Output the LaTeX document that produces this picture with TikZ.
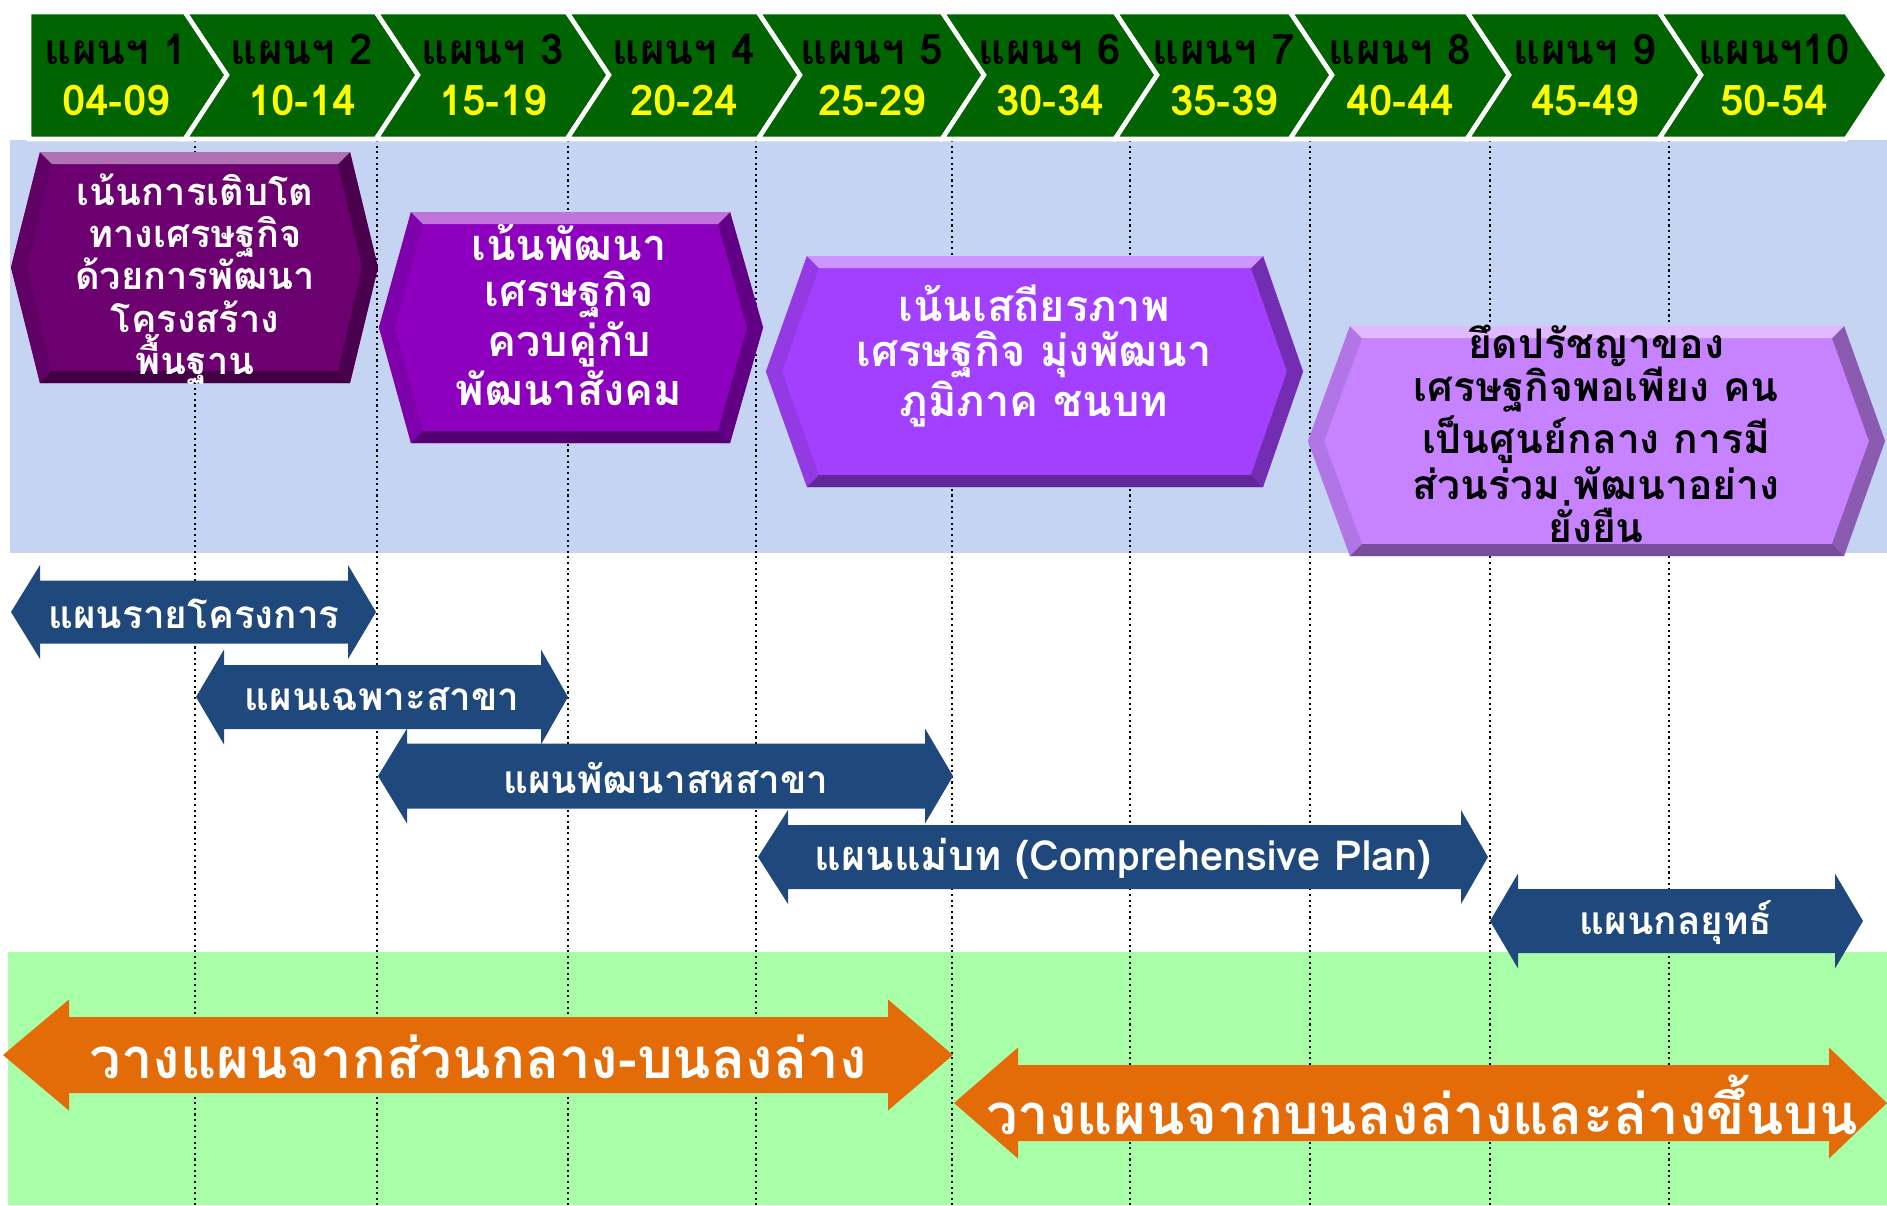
\documentclass[tikz,border=0pt]{standalone}
\usepackage{fontspec}
\setmainfont{Loma}[Script=Thai]
\usetikzlibrary{calc}

\definecolor{bandblue}{RGB}{198,212,243}
\definecolor{bandgreen}{RGB}{168,255,168}
\definecolor{chevgreen}{RGB}{0,100,0}
\definecolor{yearyellow}{RGB}{255,255,0}
\definecolor{hexone}{RGB}{108,0,112}
\definecolor{hextwo}{RGB}{140,0,190}
\definecolor{hexthree}{RGB}{163,64,255}
\definecolor{hexfour}{RGB}{198,130,255}
\definecolor{planblue}{RGB}{31,73,125}
\definecolor{planorange}{RGB}{227,108,9}

\tikzstyle{chev} = [fill=chevgreen,draw=white,line width=1.3pt]
\tikzstyle{chevtext} = [align=center,font=\bfseries\fontsize{12}{14.5}\selectfont]
\tikzstyle{hextext} = [align=center,text=white,font=\bfseries\fontsize{12.3}{12.9}\selectfont]
\tikzstyle{plantext} = [text=white,font=\bfseries\fontsize{11}{13}\selectfont]
\tikzstyle{flowtext} = [text=white,font=\bfseries\fontsize{16}{18}\selectfont]
\tikzstyle{gridline} = [densely dotted,line width=0.6pt]

% chevron with notched left side: left x, right x
\newcommand{\chevron}[2]{\draw[chev] (#1,12) -- (#2,12) -- (#2+42,75) -- (#2,139) -- (#1,139) -- (#1+42,75) -- cycle;}
% bevelled hexagon: colour, left point, top left, top right, right point, top, bottom
\newcommand{\bevelhex}[7]{%
  \fill[#1] (#2,{(#6+#7)/2}) -- (#3,#6) -- (#4,#6) -- (#5,{(#6+#7)/2}) -- (#4,#7) -- (#3,#7) -- cycle;
  \fill[#1!90!black] (#2,{(#6+#7)/2}) -- (#3,#6) -- (#3+12,#6+12) -- (#2+16,{(#6+#7)/2}) -- (#3+12,#7-12) -- (#3,#7) -- cycle;
  \fill[#1!70!black] (#5,{(#6+#7)/2}) -- (#4,#6) -- (#4-12,#6+12) -- (#5-16,{(#6+#7)/2}) -- (#4-12,#7-12) -- (#4,#7) -- cycle;
  \fill[#1!55!white] (#3,#6) -- (#4,#6) -- (#4-12,#6+12) -- (#3+12,#6+12) -- cycle;
  \fill[#1!60!black] (#3,#7) -- (#4,#7) -- (#4-12,#7-12) -- (#3+12,#7-12) -- cycle;}
% double block arrow: colour, left tip, left base, right base, right tip, mid y, half body, half head
\newcommand{\dblarrow}[8]{\fill[#1] (#2,#6) -- (#3,#6-#8) -- (#3,#6-#7) -- (#4,#6-#7) -- (#4,#6-#8) -- (#5,#6)
  -- (#4,#6+#8) -- (#4,#6+#7) -- (#3,#6+#7) -- (#3,#6+#8) -- cycle;}

\begin{document}
\begin{tikzpicture}[x=0.01cm,y=-0.01cm]
    \useasboundingbox (0,0) rectangle (1887,1205);
    \fill[bandblue] (10,140) rectangle (1887,553);
    \fill[bandgreen] (8,952) rectangle (1887,1205);
    \foreach \x in {195,377,568,756,952,1130,1310,1490,1669}
        \draw[gridline] (\x,140) -- (\x,1205);

    % plan periods
    \draw[chev] (29,12) -- (185,12) -- (227,75) -- (185,139) -- (29,139) -- cycle;
    \chevron{185}{376} \chevron{376}{567} \chevron{567}{758} \chevron{758}{942}
    \chevron{942}{1115} \chevron{1115}{1290} \chevron{1290}{1467} \chevron{1467}{1659}
    \chevron{1659}{1846}
    \node[chevtext] (p1) at (116,75) {แผนฯ 1\\\textcolor{yearyellow}{04-09}};
    \node[chevtext] (p2) at (302,75) {แผนฯ 2\\\textcolor{yearyellow}{10-14}};
    \node[chevtext] (p3) at (493,75) {แผนฯ 3\\\textcolor{yearyellow}{15-19}};
    \node[chevtext] (p4) at (684,75) {แผนฯ 4\\\textcolor{yearyellow}{20-24}};
    \node[chevtext] (p5) at (872,75) {แผนฯ 5\\\textcolor{yearyellow}{25-29}};
    \node[chevtext] (p6) at (1050,75) {แผนฯ 6\\\textcolor{yearyellow}{30-34}};
    \node[chevtext] (p7) at (1224,75) {แผนฯ 7\\\textcolor{yearyellow}{35-39}};
    \node[chevtext] (p8) at (1400,75) {แผนฯ 8\\\textcolor{yearyellow}{40-44}};
    \node[chevtext] (p9) at (1585,75) {แผนฯ 9\\\textcolor{yearyellow}{45-49}};
    \node[chevtext] (p10) at (1774,75) {แผนฯ10\\\textcolor{yearyellow}{50-54}};

    % focus of each period
    \bevelhex{hexone}{11}{40}{350}{378}{152}{383}
    \bevelhex{hextwo}{379}{411}{730}{763}{212}{443}
    \bevelhex{hexthree}{766}{807}{1263}{1303}{256}{487}
    \bevelhex{hexfour}{1308}{1350}{1844}{1885}{326}{556}
    \node[hextext,font=\bfseries\fontsize{10.8}{12}\selectfont] (h1) at (195,279)
        {เน้นการเติบโต\\ทางเศรษฐกิจ\\ด้วยการพัฒนา\\โครงสร้าง\\พื้นฐาน};
    \node[hextext] (h2) at (569,315) {เน้นพัฒนา\\เศรษฐกิจ\\ควบคู่กับ\\พัฒนาสังคม};
    \node[hextext] (h3) at (1034,356) {เน้นเสถียรภาพ\\เศรษฐกิจ มุ่งพัฒนา\\ภูมิภาค ชนบท};
    \node[hextext,text=black,font=\bfseries\fontsize{11.6}{12.2}\selectfont] (h4) at (1596,434)
        {ยึดปรัชญาของ\\เศรษฐกิจพอเพียง คน\\เป็นศูนย์กลาง การมี\\ส่วนร่วม พัฒนาอย่าง\\ยั่งยืน};

    % kinds of plan
    \dblarrow{planblue}{11}{40}{348}{376}{612}{31.5}{47}
    \dblarrow{planblue}{196}{224}{541}{568}{697}{32}{47.5}
    \dblarrow{planblue}{378}{407}{925}{953}{776}{32.5}{47.5}
    \dblarrow{planblue}{758}{788}{1461}{1488}{857}{32}{47}
    \dblarrow{planblue}{1490}{1518}{1835}{1863}{921}{32}{47.5}
    \node[plantext] (k1) at (194,614) {แผนรายโครงการ};
    \node[plantext] (k2) at (382,699) {แผนเฉพาะสาขา};
    \node[plantext] (k3) at (666,778) {แผนพัฒนาสหสาขา};
    \node[plantext,font=\bfseries\fontsize{11.8}{13}\selectfont] (k4) at (1123,859) {แผนแม่บท (Comprehensive Plan)};
    \node[plantext] (k5) at (1676,923) {แผนกลยุทธ์};

    % planning direction
    \dblarrow{planorange}{3}{69}{888}{953}{1055}{38}{55.5}
    \dblarrow{planorange}{954}{1018}{1829}{1887}{1103}{38}{55.5}
    \node[flowtext] (d1) at (478,1057) {วางแผนจากส่วนกลาง-บนลงล่าง};
    \node[flowtext] (d2) at (1422,1105) {วางแผนจากบนลงล่างและล่างขึ้นบน};
\end{tikzpicture}
\end{document}
